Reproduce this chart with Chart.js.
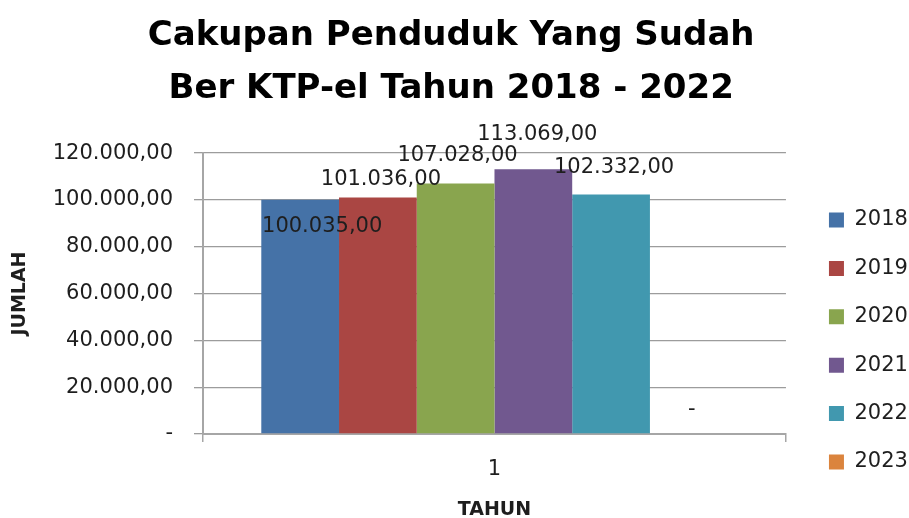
<!DOCTYPE html>
<html><head><meta charset="utf-8">
<script src="https://cdn.jsdelivr.net/npm/chart.js@4/dist/chart.umd.min.js"></script>
<style>html,body{margin:0;padding:0;background:#fff}#wrap{width:909px;height:518px}</style>
</head><body><div id="wrap"><canvas id="c" width="909" height="518"></canvas></div>
<script>
// ---- data ----
const categories = ['1'];
const seriesNames = ['2018', '2019', '2020', '2021', '2022', '2023'];
const values2018 = [100035];
const values2019 = [101036];
const values2020 = [107028];
const values2021 = [113069];
const values2022 = [102332];
const values2023 = [0];
const titleLines = ['Cakupan Penduduk Yang Sudah', 'Ber KTP-el Tahun 2018 - 2022'];
const yAxisTitle = 'JUMLAH';
const xAxisTitle = 'TAHUN';
const yMin = 0, yMax = 120000, yStep = 20000;

// ---- style ----
const colors = ['#4572A7', '#AA4643', '#89A54E', '#71588F', '#4198AF', '#DB843D'];
// label offsets (dx, dy) from the bar top centre, as placed in the original
const labelOffsets = [[22, 27], [3, -18], [2, -28], [4, -35], [3, -27], [3, -24]];
const FONT = "'DejaVu Sans', 'Open Sans', sans-serif";
const gridColor = '#9c9c9c';
const axisColor = '#a6a6a6';
const textColor = '#1e1e1e';

function fmt(v) {
  if (v === 0) return '-';
  const s = Math.round(v).toString().replace(/\B(?=(\d{3})+(?!\d))/g, '.');
  return s + ',00';
}

const allValues = [values2018, values2019, values2020, values2021, values2022, values2023];
const datasets = seriesNames.map((name, i) => ({
  label: name,
  data: allValues[i],
  backgroundColor: colors[i],
  borderWidth: 0,
  categoryPercentage: 0.8,
  barPercentage: 1.0
}));

const labelPlugin = {
  id: 'barLabels',
  afterDatasetsDraw(chart) {
    const ctx = chart.ctx;
    ctx.save();
    ctx.font = '21px ' + FONT;
    ctx.fillStyle = textColor;
    ctx.textAlign = 'center';
    ctx.textBaseline = 'middle';
    chart.data.datasets.forEach((ds, i) => {
      const meta = chart.getDatasetMeta(i);
      meta.data.forEach((bar, j) => {
        const off = labelOffsets[i];
        ctx.fillText(fmt(ds.data[j]), bar.x + off[0], bar.y + off[1]);
      });
    });
    ctx.restore();
  }
};

const legendShift = {
  id: 'legendShift',
  afterLayout(chart) {
    const l = chart.legend;
    const dx = 15.6, dy = 82;
    l.left += dx; l.right += dx;
    l.top += dy; l.bottom += dy;
  }
};

new Chart(document.getElementById('c'), {
  type: 'bar',
  data: { labels: categories, datasets },
  options: {
    responsive: false,
    animation: false,
    devicePixelRatio: 1,
    layout: { padding: { left: 0, right: 6.7, top: 0, bottom: 0 } },
    plugins: {
      title: {
        display: true,
        text: titleLines,
        color: '#000',
        font: { family: FONT, size: 34, weight: 'bold', lineHeight: 1.56 },
        padding: { top: 10, bottom: 37 }
      },
      legend: {
        position: 'right',
        labels: {
          boxWidth: 15, boxHeight: 15,
          padding: 27.4,
          color: textColor,
          font: { family: FONT, size: 21 }
        }
      },
      tooltip: { enabled: false }
    },
    scales: {
      x: {
        afterFit(scale) { scale.height = 84; },
        grid: { display: true, drawOnChartArea: false, color: axisColor, lineWidth: 1.5, tickLength: 8, offset: true },
        border: { color: axisColor, width: 2 },
        ticks: { color: textColor, font: { family: FONT, size: 21 }, padding: 15 },
        title: { display: true, text: xAxisTitle, color: textColor, font: { family: FONT, size: 19, weight: 'bold', lineHeight: 0.85 }, padding: { top: 4, bottom: 0 } }
      },
      y: {
        min: yMin, max: yMax,
        afterFit(scale) { scale.width = 203; },
        grid: { color: gridColor, lineWidth: 1.3, tickLength: 9 },
        border: { color: axisColor, width: 2 },
        ticks: { stepSize: yStep, color: textColor, font: { family: FONT, size: 21 }, padding: 21, callback: (v) => fmt(v) },
        title: { display: true, text: yAxisTitle, color: textColor, font: { family: FONT, size: 19, weight: 'bold' }, padding: { top: 9, bottom: 0 } }
      }
    }
  },
  plugins: [labelPlugin, legendShift]
});
</script></body></html>
